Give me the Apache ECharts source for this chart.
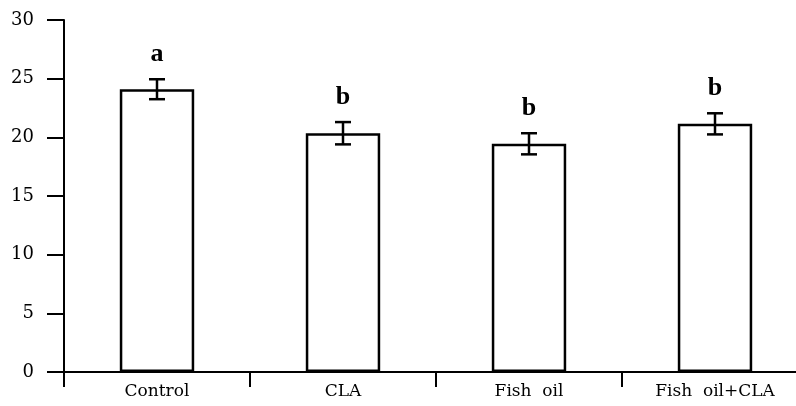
<!DOCTYPE html>
<html>
<head>
<meta charset="utf-8">
<script src="https://cdn.jsdelivr.net/npm/echarts@6/dist/echarts.min.js"></script>
<style>
  html, body { margin: 0; padding: 0; background: #fff; overflow: hidden; }
  #chart { width: 808px; height: 406px; }
</style>
</head>
<body>
<div id="chart"></div>
<script>
var categories = ['Control', 'CLA', 'Fish  oil', 'Fish  oil+CLA'];
var means = [24.1, 20.35, 19.45, 21.15];
var errors = [0.85, 0.95, 0.9, 0.9];
var letters = ['a', 'b', 'b', 'b'];

var serif = '"DejaVu Serif", "Liberation Serif", serif';

var errData = means.map(function (m, i) {
    return [i, m - errors[i], m + errors[i]];
});

// the x axis runs off the right edge in the original, so the chart is a bit wider than the window
var myChart = echarts.init(document.getElementById('chart'));

var option = {
    animation: false,
    backgroundColor: '#fff',
    grid: { left: 64, right: 0, top: 20, bottom: 34 },
    xAxis: {
        type: 'category',
        data: categories,
        boundaryGap: true,
        axisLine: { lineStyle: { color: '#000', width: 2 } },
        axisTick: { show: true, length: 15, alignWithLabel: false, lineStyle: { color: '#000', width: 2 } },
        axisLabel: { color: '#000', fontFamily: serif, fontSize: 17, margin: 11 },
        splitLine: { show: false }
    },
    yAxis: {
        type: 'value',
        min: 0,
        max: 30,
        interval: 5,
        axisLine: { show: true, lineStyle: { color: '#000', width: 2 } },
        axisTick: { show: true, length: 17, lineStyle: { color: '#000', width: 2 } },
        axisLabel: { color: '#000', fontFamily: serif, fontSize: 18, margin: 30 },
        splitLine: { show: false }
    },
    series: [
        {
            type: 'bar',
            data: means,
            barWidth: '40%',
            itemStyle: { color: '#fff', borderColor: '#000', borderWidth: 2.5 }
        },
        {
            type: 'custom',
            data: errData,
            z: 5,
            renderItem: function (params, api) {
                var i = api.value(0);
                var lo = api.coord([i, api.value(1)]);
                var hi = api.coord([i, api.value(2)]);
                var half = 8;
                var st = { stroke: '#000', lineWidth: 2.5 };
                return {
                    type: 'group',
                    children: [
                        { type: 'line', shape: { x1: hi[0], y1: hi[1], x2: lo[0], y2: lo[1] }, style: st },
                        { type: 'line', shape: { x1: hi[0] - half, y1: hi[1], x2: hi[0] + half, y2: hi[1] }, style: st },
                        { type: 'line', shape: { x1: lo[0] - half, y1: lo[1], x2: lo[0] + half, y2: lo[1] }, style: st },
                        {
                            type: 'text',
                            x: hi[0],
                            y: hi[1] - 12,
                            style: {
                                text: letters[params.dataIndex],
                                fill: '#000',
                                font: 'bold 26px "Liberation Serif", serif',
                                align: 'center',
                                verticalAlign: 'bottom'
                            }
                        }
                    ]
                };
            }
        }
    ]
};

myChart.setOption(option);
</script>
</body>
</html>
